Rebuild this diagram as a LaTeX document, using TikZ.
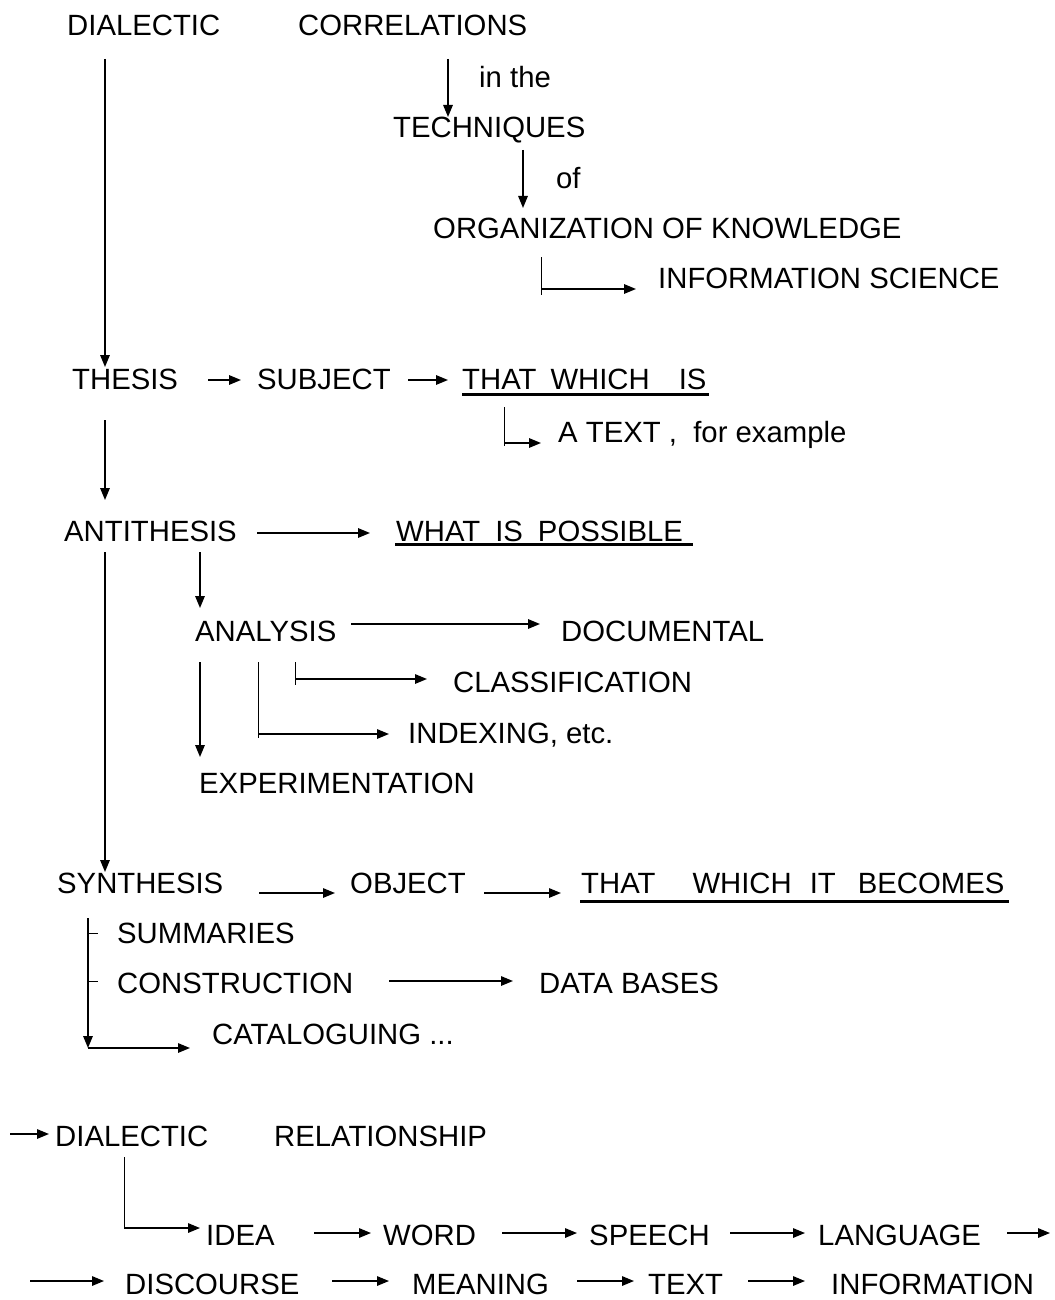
\documentclass[tikz,border=0pt]{standalone}
\usepackage{fontspec}
\setmainfont{Liberation Sans}
\usetikzlibrary{arrows.meta,calc}
\begin{document}
\begin{tikzpicture}[x=1pt,y=-1pt,
  lbl/.style={font=\fontsize{29.3}{34}\selectfont, inner sep=0pt, anchor=west, text height=21pt, text depth=0pt},
  arr/.style={-{Triangle[length=12pt,width=9.5pt]}, line width=1.5pt},
  plain/.style={line width=1pt},
  uline/.style={line width=2.8pt}]
\fill[white] (0,0) rectangle (1054,1300);
\useasboundingbox (0,0) rectangle (1054,1300);

% nodes
\node[lbl] (dial1) at (67,25) {DIALECTIC};
\node[lbl] (corr) at (298,25) {CORRELATIONS};
\node[lbl] (inthe) at (479,77) {in the};
\node[lbl] (tech) at (393,127) {TECHNIQUES};
\node[lbl] (of) at (556,178) {of};
\node[lbl] (org) at (433,228) {ORGANIZATION OF KNOWLEDGE};
\node[lbl] (infsci) at (658,278) {INFORMATION SCIENCE};
\node[lbl] (thesis) at (72,379) {THESIS};
\node[lbl] (subject) at (257,379) {SUBJECT};
\node[lbl] (twi) at (462,379) {THAT\hspace{14pt}WHICH\hspace{29pt}IS};
\node[lbl] (atext) at (558,432) {A TEXT ,\ \ for example};
\node[lbl] (anti) at (64,531) {ANTITHESIS};
\node[lbl] (wip) at (396,531) {WHAT\hspace{15pt}IS\hspace{15pt}POSSIBLE};
\node[lbl] (analysis) at (195,631) {ANALYSIS};
\node[lbl] (documental) at (561,631) {DOCUMENTAL};
\node[lbl] (classif) at (453,682) {CLASSIFICATION};
\node[lbl] (indexing) at (408,733) {INDEXING, etc.};
\node[lbl] (experim) at (199,783) {EXPERIMENTATION};
\node[lbl] (synth) at (57,883) {SYNTHESIS};
\node[lbl] (object) at (350,883) {OBJECT};
\node[lbl] (twib) at (581,883) {THAT\hspace{37pt}WHICH\hspace{18pt}IT\hspace{22pt}BECOMES};
\node[lbl] (summ) at (117,933) {SUMMARIES};
\node[lbl] (constr) at (117,983) {CONSTRUCTION};
\node[lbl] (database) at (539,983) {DATA BASES};
\node[lbl] (catal) at (212,1034) {CATALOGUING ...};
\node[lbl] (dial2) at (55,1136) {DIALECTIC};
\node[lbl] (relat) at (274,1136) {RELATIONSHIP};
\node[lbl] (idea) at (206,1235) {IDEA};
\node[lbl] (word) at (383,1235) {WORD};
\node[lbl] (speech) at (589,1235) {SPEECH};
\node[lbl] (language) at (818,1235) {LANGUAGE};
\node[lbl] (discourse) at (125,1284) {DISCOURSE};
\node[lbl] (meaning) at (412,1284) {MEANING};
\node[lbl] (textn) at (648,1284) {TEXT};
\node[lbl] (information) at (831,1284) {INFORMATION};

\coordinate (in1) at (10,1134);
\coordinate (out1) at (1050,1233);
\coordinate (in2) at (30,1281);

% underlines
\draw[uline] ($(twi.south west)+(0,5)$) -- ($(twi.south east)+(2,5)$);
\draw[uline] ($(wip.south west)+(-1,3)$) -- ($(wip.south east)+(10,3)$);
\draw[uline] ($(twib.south west)+(-1,8)$) -- ($(twib.south east)+(4,8)$);

% top part
\draw[arr] ($(dial1.west)+(38,34)$) -- ($(thesis.west)+(33,-12)$);
\draw[arr] ($(corr.west)+(150,34)$) -- ($(tech.west)+(55,-10)$);
\draw[arr] ($(tech.west)+(130,23)$) -- ($(org.west)+(90,-20)$);
\draw[plain] ($(org.west)+(108,29)$) -- ($(org.west)+(108,67)$);
\draw[arr] ($(org.west)+(108,61)$) -- ($(infsci.west)+(-22,11)$);

% thesis row
\draw[arr] ($(thesis.west)+(136,1)$) -- ($(subject.west)+(-16,1)$);
\draw[arr] ($(subject.west)+(151,1)$) -- ($(twi.west)+(-14,1)$);
\draw[plain] ($(twi.west)+(42,28)$) -- ($(twi.west)+(42,67)$);
\draw[arr] ($(twi.west)+(42,64)$) -- ($(atext.west)+(-17,11)$);
\draw[arr] ($(thesis.west)+(33,41)$) -- ($(anti.west)+(41,-31)$);

% antithesis
\draw[arr] ($(anti.west)+(193,2)$) -- ($(wip.west)+(-26,2)$);
\draw[arr] ($(anti.west)+(41,21)$) -- ($(synth.west)+(48,-11)$);
\draw[arr] ($(anti.west)+(136,21)$) -- ($(analysis.west)+(5,-23)$);

% analysis
\draw[arr] ($(analysis.west)+(156,-7)$) -- ($(documental.west)+(-21,-7)$);
\draw[plain] ($(analysis.west)+(100,31)$) -- ($(analysis.west)+(100,54)$);
\draw[arr] ($(analysis.west)+(100,48)$) -- ($(classif.west)+(-26,-3)$);
\draw[plain] ($(analysis.west)+(63,31)$) -- ($(analysis.west)+(63,107)$);
\draw[arr] ($(analysis.west)+(63,103)$) -- ($(indexing.west)+(-19,1)$);
\draw[arr] ($(analysis.west)+(5,31)$) -- ($(experim.west)+(1,-26)$);

% synthesis
\draw[arr] ($(synth.west)+(202,10)$) -- ($(object.west)+(-15,10)$);
\draw[arr] ($(object.west)+(134,10)$) -- ($(twib.west)+(-20,10)$);
\draw[arr] ($(synth.west)+(31,35)$) -- ($(synth.west)+(31,165)$);
\draw[plain] ($(summ.west)+(-29,0)$) -- ($(summ.west)+(-19,0)$);
\draw[plain] ($(constr.west)+(-29,-2)$) -- ($(constr.west)+(-19,-2)$);
\draw[arr] ($(synth.west)+(31,165)$) -- ($(catal.west)+(-22,14)$);
\draw[arr] ($(constr.west)+(272,-2)$) -- ($(database.west)+(-26,-2)$);

% bottom
\draw[arr] (in1) -- ($(dial2.west)+(-6,-2)$);
\draw[plain] ($(dial2.west)+(69,21)$) -- ($(dial2.west)+(69,93)$);
\draw[arr] ($(dial2.west)+(69,92)$) -- ($(idea.west)+(-6,-7)$);
\draw[arr] ($(idea.west)+(108,-2)$) -- ($(word.west)+(-12,-2)$);
\draw[arr] ($(word.west)+(119,-2)$) -- ($(speech.west)+(-12,-2)$);
\draw[arr] ($(speech.west)+(141,-2)$) -- ($(language.west)+(-13,-2)$);
\draw[arr] ($(language.west)+(189,-2)$) -- (out1);
\draw[arr] (in2) -- ($(discourse.west)+(-21,-3)$);
\draw[arr] ($(discourse.west)+(207,-3)$) -- ($(meaning.west)+(-23,-3)$);
\draw[arr] ($(meaning.west)+(165,-3)$) -- ($(textn.west)+(-14,-3)$);
\draw[arr] ($(textn.west)+(100,-3)$) -- ($(information.west)+(-26,-3)$);
\end{tikzpicture}
\end{document}
